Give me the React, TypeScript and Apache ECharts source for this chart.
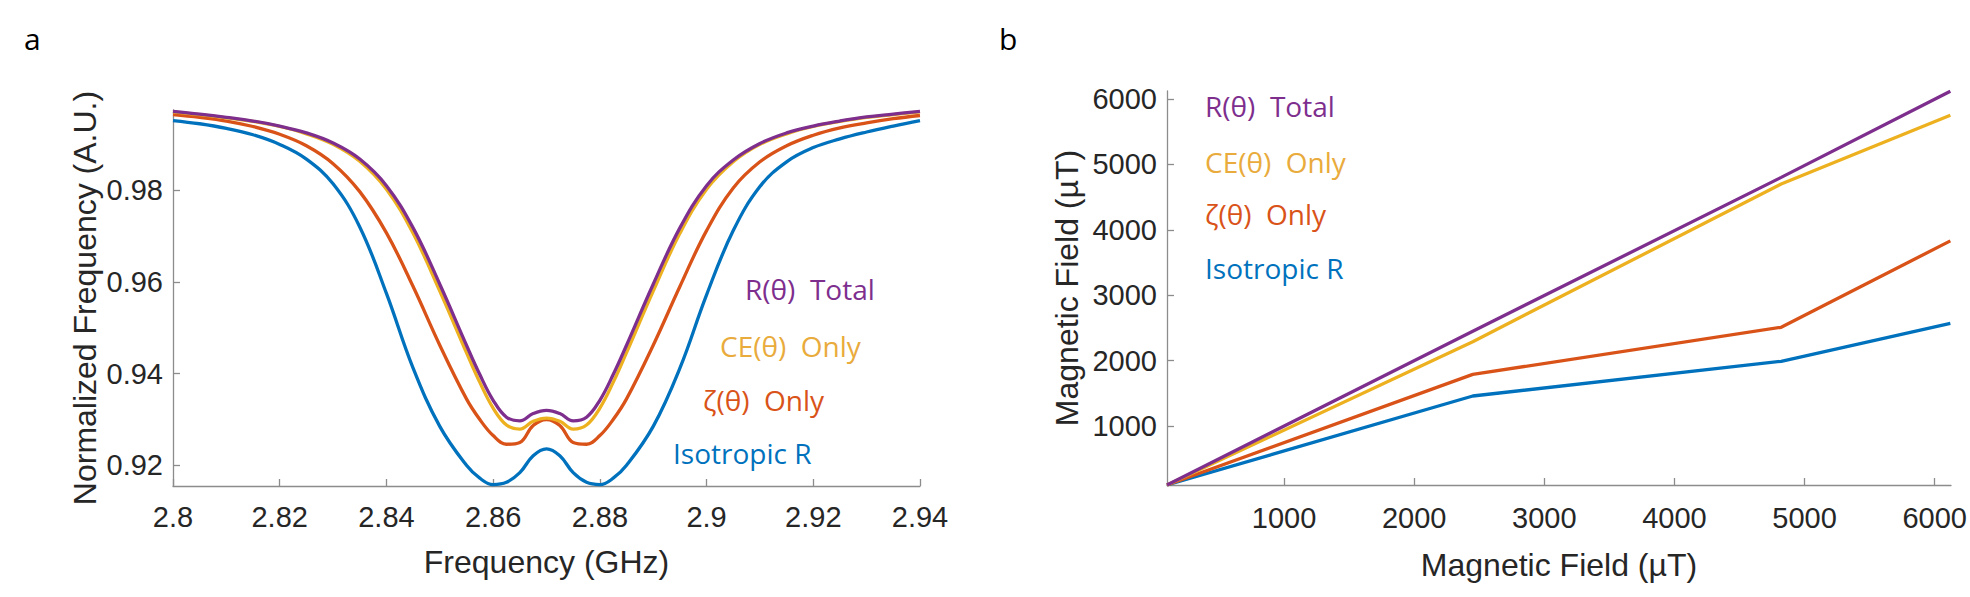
import React, { useEffect, useRef } from "react";
import * as echarts from "echarts";

// Panel a: simulated ODMR dips (normalized fluorescence vs microwave frequency)
const FREQ = [
  2.8, 2.805, 2.81, 2.815, 2.82, 2.825, 2.83, 2.835, 2.84, 2.845, 2.85, 2.855, 2.8575, 2.86, 2.8625, 2.865, 2.8675,
  2.87, 2.8725, 2.875, 2.8775, 2.88, 2.8825, 2.885, 2.89, 2.895, 2.9, 2.905, 2.91, 2.915, 2.92, 2.925, 2.93, 2.935,
  2.94,
];
const ISO_R = [
  0.9952, 0.9945, 0.9935, 0.9921, 0.99, 0.9868, 0.9814, 0.972, 0.9575, 0.9412, 0.9285, 0.92, 0.9172, 0.9158, 0.9163,
  0.9184, 0.9221, 0.9236, 0.9221, 0.9184, 0.9163, 0.9158, 0.9172, 0.92, 0.9285, 0.9412, 0.9572, 0.9712, 0.9808,
  0.9862, 0.9893, 0.9912, 0.9927, 0.994, 0.9952,
];
const ZETA_ONLY = [
  0.9965, 0.9959, 0.9951, 0.9939, 0.9922, 0.9897, 0.9858, 0.9797, 0.9707, 0.959, 0.9462, 0.9345, 0.93, 0.9265, 0.9246,
  0.925, 0.9287, 0.93, 0.9287, 0.925, 0.9246, 0.9265, 0.93, 0.9345, 0.9462, 0.959, 0.9712, 0.9805, 0.9862, 0.9897,
  0.992, 0.9936, 0.9947, 0.9956, 0.9963,
];
const CE_ONLY = [
  0.9971, 0.9965, 0.9958, 0.995, 0.9939, 0.9923, 0.99, 0.9863, 0.9802, 0.9706, 0.958, 0.9446, 0.9381, 0.9325, 0.9288,
  0.9279, 0.9296, 0.9303, 0.9296, 0.9279, 0.9288, 0.9325, 0.9381, 0.9446, 0.958, 0.9706, 0.9802, 0.9862, 0.99,
  0.9923, 0.9939, 0.995, 0.9959, 0.9965, 0.9971,
];
const R_TOTAL = [
  0.9972, 0.9966, 0.9959, 0.9951, 0.994, 0.9925, 0.9903, 0.9868, 0.981, 0.9718, 0.9595, 0.9462, 0.9398, 0.9342,
  0.9305, 0.9297, 0.9313, 0.932, 0.9313, 0.9297, 0.9305, 0.9342, 0.9398, 0.9462, 0.9595, 0.9718, 0.981, 0.9866,
  0.9902, 0.9925, 0.994, 0.9951, 0.996, 0.9966, 0.9972,
];
const FREQ_TICKS = [2.8, 2.82, 2.84, 2.86, 2.88, 2.9, 2.92, 2.94];
const NORM_TICKS = [0.92, 0.94, 0.96, 0.98];

// Panel b: reconstructed vs applied magnetic field
const FIELD_APPLIED = [100, 2450, 4820, 6120];
const FIELD_ISO = [100, 1460, 1990, 2570];
const FIELD_ZETA = [100, 1790, 2510, 3830];
const FIELD_CE = [100, 2290, 4700, 5750];
const FIELD_TOTAL = [100, 2450, 4800, 6115];
const FIELD_TICKS = [1000, 2000, 3000, 4000, 5000, 6000];

const NAMES = ["Isotropic R", "ζ(θ)  Only", "CE(θ)  Only", "R(θ)  Total"];
const COLORS = ["#0072BD", "#D95319", "#EDB120", "#7E2F8E"];
const TEXT_COLORS = ["#0072BD", "#D95319", "#E9AB3C", "#7E2F8E"];

const AXIS_GRAY = "#8c8c8c";
const INK = "#262626";
const SANS = "'Liberation Sans', Arial, Helvetica, sans-serif";
const LABEL_FONT = "'Open Sans', 'Noto Sans', sans-serif";

function axisBase(ticks: number[], fmt: (v: number) => string, margin: number) {
  return {
    type: "value" as const,
    axisLine: { show: true, lineStyle: { color: AXIS_GRAY, width: 1.3 } },
    axisTick: { show: true, inside: true, length: 7, customValues: ticks, lineStyle: { color: AXIS_GRAY, width: 1.3 } },
    axisLabel: { customValues: ticks, formatter: fmt, fontSize: 29, color: INK, fontFamily: SANS, margin },
    splitLine: { show: false },
    nameLocation: "middle" as const,
    nameTextStyle: { fontSize: 32, color: INK, fontFamily: SANS },
  };
}

const fmt2 = (v: number) => String(Number(v.toFixed(2)));
const fmtInt = (v: number) => String(Math.round(v));

function buildOption() {
  const leftSets = [ISO_R, ZETA_ONLY, CE_ONLY, R_TOTAL];
  const rightSets = [FIELD_ISO, FIELD_ZETA, FIELD_CE, FIELD_TOTAL];

  const series: any[] = [];
  leftSets.forEach((vals, k) => {
    series.push({
      type: "line",
      name: NAMES[k],
      xAxisIndex: 0,
      yAxisIndex: 0,
      data: FREQ.map((f, i) => [f, vals[i]]),
      showSymbol: false,
      smooth: 0.4,
      lineStyle: { color: COLORS[k], width: 3.3 },
      itemStyle: { color: COLORS[k] },
      z: 2 + k,
    });
  });
  rightSets.forEach((vals, k) => {
    series.push({
      type: "line",
      name: NAMES[k],
      xAxisIndex: 1,
      yAxisIndex: 1,
      data: FIELD_APPLIED.map((b, i) => [b, vals[i]]),
      showSymbol: false,
      lineStyle: { color: COLORS[k], width: 3.3 },
      itemStyle: { color: COLORS[k] },
      z: 2 + k,
    });
  });

  const leftLabelPos = [
    [673, 453],
    [703, 400],
    [720, 346],
    [745, 289],
  ];
  const rightLabelPos = [
    [1205, 268],
    [1205, 214],
    [1205, 162],
    [1205, 106],
  ];
  const labelText = (pos: number[], k: number) => ({
    type: "text",
    x: pos[0],
    y: pos[1],
    silent: true,
    style: {
      text: NAMES[k],
      fill: TEXT_COLORS[k],
      font: `28px ${LABEL_FONT}`,
      textAlign: "left",
      textVerticalAlign: "middle",
    },
  });

  return {
    animation: false,
    backgroundColor: "#ffffff",
    grid: [
      { left: 173, top: 110, width: 747, height: 376 },
      { left: 1167, top: 91, width: 784, height: 394 },
    ],
    xAxis: [
      {
        ...axisBase(FREQ_TICKS, fmt2, 16),
        gridIndex: 0,
        min: 2.8,
        max: 2.94,
        name: "Frequency (GHz)",
        nameGap: 60,
      },
      {
        ...axisBase(FIELD_TICKS, fmtInt, 18),
        gridIndex: 1,
        min: 100,
        max: 6125,
        name: "Magnetic Field (µT)",
        nameGap: 64,
      },
    ],
    yAxis: [
      {
        ...axisBase(NORM_TICKS, (v: number) => v.toFixed(2), 10),
        gridIndex: 0,
        min: 0.9155,
        max: 0.9975,
        name: "Normalized Frequency (A.U.)",
        nameGap: 72,
      },
      {
        ...axisBase(FIELD_TICKS, fmtInt, 10),
        gridIndex: 1,
        min: 100,
        max: 6120,
        name: "Magnetic Field (µT)",
        nameGap: 84,
      },
    ],
    series,
    graphic: [
      {
        type: "text",
        x: 24,
        y: 38,
        silent: true,
        style: { text: "a", fill: "#000", font: `30px ${LABEL_FONT}`, textVerticalAlign: "middle" },
      },
      {
        type: "text",
        x: 999,
        y: 38,
        silent: true,
        style: { text: "b", fill: "#000", font: `30px ${LABEL_FONT}`, textVerticalAlign: "middle" },
      },
      ...leftLabelPos.map((p, k) => labelText(p, k)),
      ...rightLabelPos.map((p, k) => labelText(p, k)),
    ],
  };
}

export default function App() {
  const ref = useRef<HTMLDivElement>(null);
  useEffect(() => {
    document.body.style.margin = "0";
    if (!ref.current) return;
    const chart = echarts.init(ref.current, null, { renderer: "svg" });
    chart.setOption(buildOption() as any);
    return () => chart.dispose();
  }, []);
  return <div ref={ref} style={{ width: 1970, height: 597, background: "#fff" }} />;
}
